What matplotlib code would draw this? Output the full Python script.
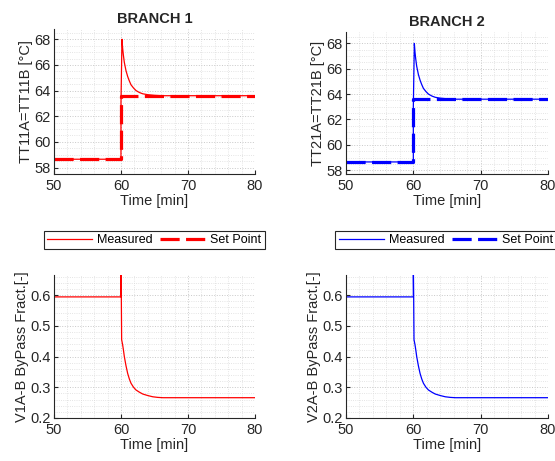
import numpy as np
import matplotlib
matplotlib.use("Agg")
from matplotlib import pyplot as plt
from matplotlib.ticker import MultipleLocator

plt.rcParams['font.family'] = ['Liberation Sans', 'DejaVu Sans']

# temperature, branch 1 (measured and set point)
t1_meas = [50, 60.0, 60.0, 60.15, 60.25, 60.35, 60.5, 60.75, 61.0, 61.25, 61.5, 61.875,
           62.25, 62.75, 63.25, 64.0, 65.0, 66.0, 80]
T1_meas = [58.65, 58.65, 63.0, 68.0, 67.3, 66.8, 66.2, 65.55, 65.1, 64.75, 64.45, 64.2,
           64.0, 63.85, 63.75, 63.68, 63.63, 63.6, 63.6]
t1_sp = [50, 60, 60, 80]
T1_sp = [58.65, 58.65, 63.6, 63.6]

# temperature, branch 2
t2_meas = [50, 60.0, 60.0, 60.15, 60.25, 60.35, 60.5, 60.75, 61.0, 61.25, 61.5, 61.875,
           62.25, 62.75, 63.25, 64.0, 65.0, 66.0, 80]
T2_meas = [58.65, 58.65, 63.0, 68.0, 67.3, 66.8, 66.2, 65.55, 65.1, 64.75, 64.45, 64.2,
           64.0, 63.85, 63.75, 63.68, 63.63, 63.6, 63.6]
t2_sp = [50, 60, 60, 80]
T2_sp = [58.65, 58.65, 63.6, 63.6]

# bypass fraction
t1_byp = [50, 60.0, 60.0, 60.05, 60.1, 60.25, 60.375, 60.5, 60.75, 61.0, 61.25, 61.5,
          61.875, 62.25, 62.75, 63.25, 64.0, 64.75, 65.5, 66.25, 80]
v1_byp = [0.594, 0.594, 0.70, 0.60, 0.455, 0.438, 0.42, 0.40, 0.37, 0.345, 0.327, 0.313,
          0.30, 0.291, 0.284, 0.278, 0.273, 0.269, 0.267, 0.266, 0.266]
t2_byp = [50, 60.0, 60.0, 60.05, 60.1, 60.25, 60.375, 60.5, 60.75, 61.0, 61.25, 61.5,
          61.875, 62.25, 62.75, 63.25, 64.0, 64.75, 65.5, 66.25, 80]
v2_byp = [0.594, 0.594, 0.70, 0.60, 0.455, 0.438, 0.42, 0.40, 0.37, 0.345, 0.327, 0.313,
          0.30, 0.291, 0.284, 0.278, 0.273, 0.269, 0.267, 0.266, 0.266]

fig = plt.figure(figsize=(5.55, 4.61), dpi=100)

FS = 10.5

def style_axes(ax, ymaj, ymin):
    ax.set_xlim(50, 80)
    ax.xaxis.set_major_locator(MultipleLocator(10))
    ax.xaxis.set_minor_locator(MultipleLocator(2))
    ax.yaxis.set_major_locator(MultipleLocator(ymaj))
    ax.yaxis.set_minor_locator(MultipleLocator(ymin))
    ax.grid(which='major', color='#c8c8c8', linestyle=':', linewidth=0.7)
    ax.grid(which='minor', color='#dcdcdc', linestyle=':', linewidth=0.6)
    ax.set_axisbelow(True)
    for s in ['top', 'right']:
        ax.spines[s].set_visible(False)
    for s in ['left', 'bottom']:
        ax.spines[s].set_color('#262626')
        ax.spines[s].set_linewidth(0.8)
    ax.tick_params(which='both', direction='in', colors='#262626', labelsize=FS)
    ax.tick_params(which='major', length=3)
    ax.tick_params(axis='x', which='major', pad=3.5)
    ax.tick_params(axis='y', which='major', pad=2.5)
    ax.tick_params(which='minor', length=0)
    ax.set_xlabel('Time [min]', fontsize=FS, color='#262626', labelpad=0.5)

axes_pos = {
    'tl': [0.0973, 0.6226, 0.362, 0.3145],
    'tr': [0.6234, 0.6226, 0.364, 0.308],
    'bl': [0.0973, 0.0933, 0.362, 0.310],
    'br': [0.6234, 0.0933, 0.364, 0.310],
}

data = [
    ('tl', 'red', t1_meas, T1_meas, t1_sp, T1_sp, 'TT11A=TT11B [°C]', 'BRANCH 1', (57.5, 68.8)),
    ('tr', 'blue', t2_meas, T2_meas, t2_sp, T2_sp, 'TT21A=TT21B [°C]', 'BRANCH 2', (57.7, 68.9)),
]
for key, col, tm, Tm, ts, Ts, ylab, title, ylim in data:
    ax = fig.add_axes(axes_pos[key])
    ax.plot(ts, Ts, color=col, lw=2.3, dashes=(6, 2))
    ax.plot(tm, Tm, color=col, lw=0.9)
    style_axes(ax, 2, 0.5)
    ax.set_ylim(*ylim)
    ax.set_ylabel(ylab, fontsize=FS, color='#262626', labelpad=1)
    ax.set_title(title, fontsize=FS, fontweight='bold', color='#262626', pad=4)

legend_x = {'bl': 0.278, 'br': 0.803}
byp = [
    ('bl', 'red', t1_byp, v1_byp, 'V1A-B ByPass Fract.[-]'),
    ('br', 'blue', t2_byp, v2_byp, 'V2A-B ByPass Fract.[-]'),
]
for key, col, tb, vb, ylab in byp:
    ax = fig.add_axes(axes_pos[key])
    h1, = ax.plot(tb, vb, color=col, lw=0.9, label='Measured')
    style_axes(ax, 0.1, 0.02)
    ax.set_ylim(0.2, 0.665)
    ax.set_ylabel(ylab, fontsize=FS, color='#262626', labelpad=1)
    h2, = ax.plot([], [], color=col, lw=2.3, dashes=(6, 2), label='Set Point')
    leg = ax.legend(handles=[h1, h2], loc='center', ncol=2,
                    bbox_to_anchor=(legend_x[key], 0.479), bbox_transform=fig.transFigure,
                    fontsize=9, handlelength=3.6, handletextpad=0.4, columnspacing=0.6,
                    borderpad=0.25, borderaxespad=0, fancybox=False, framealpha=1)
    leg.get_frame().set_edgecolor('#262626')
    leg.get_frame().set_linewidth(0.8)

fig.savefig('out.png', dpi=100)
